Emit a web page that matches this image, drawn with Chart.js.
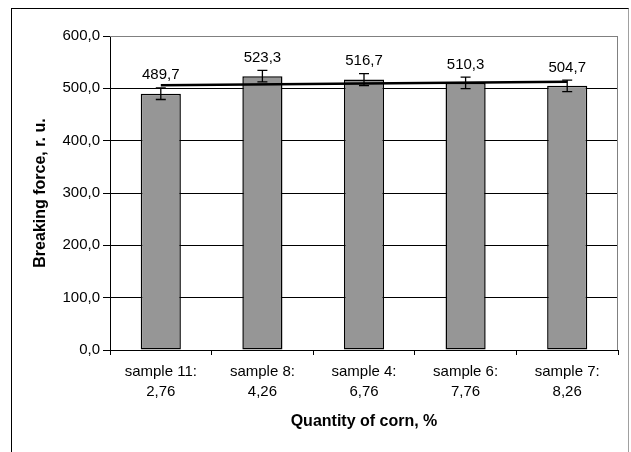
<!DOCTYPE html>
<html>
<head>
<meta charset="utf-8">
<script src="https://cdn.jsdelivr.net/npm/chart.js@4"></script>
<style>
  body { margin: 0; background: #fff; }
  #wrap { position: relative; width: 631px; height: 452px; overflow: hidden; }
  #frame { position: absolute; left: 11px; top: 8px; width: 616px; height: 500px;
           border-left: 1.5px solid #000; border-top: 1px solid #000; border-right: 1px solid #a0a0a0; }
  #chart_1 { position: absolute; left: 0; top: 0; }
</style>
</head>
<body>
<div id="wrap">
  <div id="frame"></div>
  <canvas id="chart_1" width="631" height="452"></canvas>
</div>
<script>
// values
const samples = [['sample 11:', '2,76'], ['sample 8:', '4,26'], ['sample 4:', '6,76'], ['sample 6:', '7,76'], ['sample 7:', '8,26']];
const forca = [489.7, 523.3, 516.7, 510.3, 504.7];
const erros = [11, 11, 11.5, 11, 11];
// trend line end points (start / end)
const tendencia = [505.7, null, null, null, 512.6];
const yTicks = [0, 100, 200, 300, 400, 500, 600];

const fonte = "'Liberation Sans', Arial, sans-serif";
const virgula = (v, d) => v.toFixed(d).replace('.', ',');

// error bars + value labels, drawn through the scales
const extras = {
  id: 'extras',
  afterDatasetsDraw(chart) {
    const ctx = chart.ctx;
    const meta = chart.getDatasetMeta(1);
    const y = chart.scales.y;
    ctx.save();
    ctx.strokeStyle = '#000';
    ctx.lineWidth = 1.3;
    meta.data.forEach((bar, i) => {
      const x = bar.x;
      const top = y.getPixelForValue(forca[i] + erros[i]);
      const bot = y.getPixelForValue(forca[i] - erros[i]);
      ctx.beginPath();
      ctx.moveTo(x, top); ctx.lineTo(x, bot);
      ctx.moveTo(x - 5, top); ctx.lineTo(x + 5, top);
      ctx.moveTo(x - 5, bot); ctx.lineTo(x + 5, bot);
      ctx.stroke();
      ctx.fillStyle = '#000';
      ctx.font = '15px ' + fonte;
      ctx.textAlign = 'center';
      ctx.textBaseline = 'middle';
      ctx.fillText(virgula(forca[i], 1), x, bar.y - 18.5);
    });
    ctx.restore();
  },
  afterDraw(chart) {
    const a = chart.chartArea;
    const ctx = chart.ctx;
    ctx.save();
    ctx.strokeStyle = '#808080';
    ctx.lineWidth = 1;
    ctx.beginPath();
    ctx.moveTo(a.left, a.top + 0.5);
    ctx.lineTo(a.right - 0.5, a.top + 0.5);
    ctx.lineTo(a.right - 0.5, a.bottom);
    ctx.stroke();
    ctx.restore();
  }
};

const ctx = document.getElementById('chart_1');
const data = {
  labels: samples,
  datasets: [{
    type: 'line',
    label: 'Trend',
    data: tendencia,
    spanGaps: true,
    borderColor: '#000',
    borderWidth: 2.5,
    pointRadius: 0,
    order: 0
  }, {
    type: 'bar',
    label: 'Breaking force',
    data: forca,
    backgroundColor: '#969696',
    borderColor: '#000',
    borderWidth: 1.5,
    borderSkipped: false,
    categoryPercentage: 1,
    barPercentage: 0.395,
    order: 1
  }]
};
const config = {
  data: data,
  plugins: [extras],
  options: {
    responsive: false,
    animation: false,
    layout: { padding: { left: 0, right: 13, top: 36, bottom: 0 } },
    plugins: {
      legend: { display: false },
      tooltip: { enabled: false }
    },
    scales: {
      x: {
        offset: true,
        grid: { offset: true, drawOnChartArea: false, drawTicks: true, tickLength: 5, tickColor: '#000' },
        border: { color: '#000', width: 1 },
        ticks: { color: '#000', padding: 7, maxRotation: 0, font: { family: fonte, size: 15, lineHeight: '20px' } },
        title: { display: true, text: 'Quantity of corn, %', color: '#000', padding: { top: 0, bottom: 20.4 },
                 font: { family: fonte, size: 16, weight: 'bold' } },
        afterFit(scale) { scale.height = 102; }
      },
      y: {
        min: 0,
        max: 600,
        afterBuildTicks(scale) { scale.ticks = yTicks.map(v => ({ value: v })); },
        grid: {
          color: (c) => c.tick && c.tick.value === 600 ? '#808080' : '#000',
          lineWidth: 1,
          tickLength: 7,
          tickColor: '#000'
        },
        border: { color: '#000', width: 1 },
        ticks: { color: '#000', padding: 3, font: { family: fonte, size: 15 },
                 callback: (v) => virgula(v, 1) },
        title: { display: true, text: 'Breaking force, r. u.', color: '#000', padding: { top: 31.4, bottom: 0 },
                 font: { family: fonte, size: 16, weight: 'bold' } },
        afterFit(scale) { scale.width = 110; }
      }
    }
  }
};
new Chart(ctx, config);
</script>
</body>
</html>
